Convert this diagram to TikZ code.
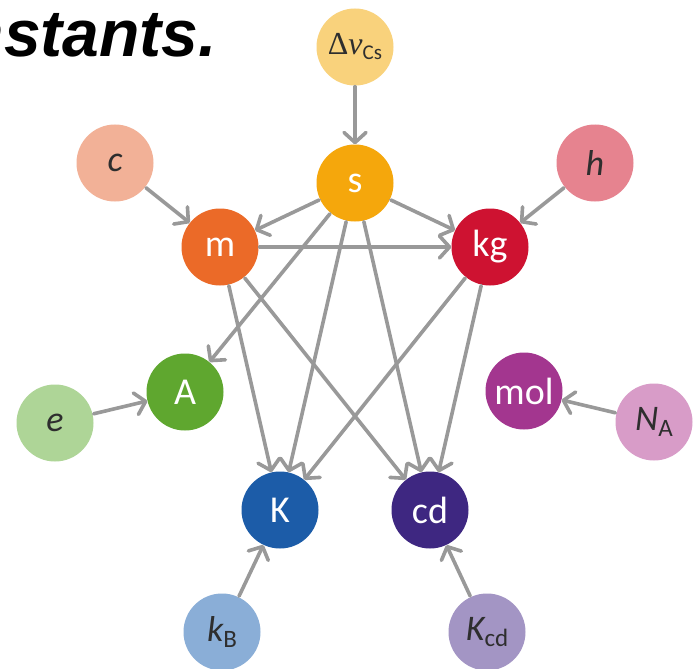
\documentclass[tikz,border=0pt]{standalone}
\usepackage{fontspec}
\setmainfont{Carlito}
\newfontfamily\headfont{Liberation Sans}
\newfontfamily\symfont{Liberation Serif}
\usetikzlibrary{arrows.meta}
\definecolor{cDnu}{HTML}{F9D27C}
\definecolor{cS}{HTML}{F5A70C}
\definecolor{cC}{HTML}{F2B197}
\definecolor{cM}{HTML}{EB6A28}
\definecolor{cH}{HTML}{E6838F}
\definecolor{cKg}{HTML}{CE1231}
\definecolor{cA}{HTML}{5FA72F}
\definecolor{cE}{HTML}{AED597}
\definecolor{cMol}{HTML}{A3368F}
\definecolor{cNA}{HTML}{D89CC8}
\definecolor{cK}{HTML}{1C5CA8}
\definecolor{cKB}{HTML}{8AAED7}
\definecolor{cCd}{HTML}{3E2781}
\definecolor{cKcd}{HTML}{A395C4}
\definecolor{edgegray}{HTML}{999999}
\definecolor{labeldark}{HTML}{2E2E2E}
\tikzset{
  unit/.style={circle, fill=#1, minimum size=77pt, inner sep=0pt,
    text=white, font=\fontsize{38}{38}\selectfont},
  const/.style={circle, fill=#1, minimum size=77pt, inner sep=0pt,
    text=labeldark, font=\fontsize{36}{36}\selectfont},
  link/.style={draw=edgegray, line width=3.6pt, line cap=round,
    -{Straight Barb[length=10pt,width=22pt,round]}, shorten <=1pt}
}
\begin{document}
\begin{tikzpicture}[x=1pt,y=-1pt]
\useasboundingbox (0,0) rectangle (697,669);
\fill[white] (0,0) rectangle (697,669);
\begin{scope}
\clip (0,0) rectangle (697,669);
\node[anchor=base east, inner sep=0pt,
  font=\headfont\fontsize{66}{66}\selectfont\bfseries\itshape] (title) at (217,57) {constants.};
\end{scope}

% defining constants
\node[const=cDnu] (dnu) at (355,47) {{\symfont\fontsize{32}{32}\selectfont Δ\textit{ν}}\raisebox{-5pt}{\fontsize{21}{21}\selectfont Cs}};
\node[const=cC]  (c)   at (115,163) {\itshape c};
\node[const=cH]  (h)   at (595,163) {\itshape h};
\node[const=cE]  (e)   at (55,423)  {\itshape e};
\node[const=cNA] (na)  at (654,422) {\itshape N\raisebox{-6pt}{\upshape\fontsize{25}{25}\selectfont A}};
\node[const=cKB] (kb)  at (222,632) {\itshape k\raisebox{-6pt}{\upshape\fontsize{25}{25}\selectfont B}};
\node[const=cKcd](kcd) at (487,632) {\itshape K\raisebox{-6pt}{\upshape\fontsize{25}{25}\selectfont cd}};

% base units
\node[unit=cS]   (s)   at (355,183) {s};
\node[unit=cM]   (m)   at (220,247) {m};
\node[unit=cKg]  (kg)  at (490,247) {kg};
\node[unit=cA]   (A)   at (185,392) {A};
\node[unit=cMol] (mol) at (524,391) {mol};
\node[unit=cK]   (K)   at (280,510) {K};
\node[unit=cCd]  (cd)  at (430,510) {cd};

% dependencies
\draw[link] (dnu) -- (s);
\draw[link] (c) -- (m);
\draw[link] (h) -- (kg);
\draw[link] (s) -- (m);
\draw[link] (s) -- (kg);
\draw[link] (m) -- (kg);
\draw[link] (s) -- (A);
\draw[link] (s) -- (K);
\draw[link] (s) -- (cd);
\draw[link] (m) -- (K);
\draw[link] (m) -- (cd);
\draw[link] (kg) -- (K);
\draw[link] (kg) -- (cd);
\draw[link] (e) -- (A);
\draw[link] (na) -- (mol);
\draw[link] (kb) -- (K);
\draw[link] (kcd) -- (cd);
\end{tikzpicture}
\end{document}
